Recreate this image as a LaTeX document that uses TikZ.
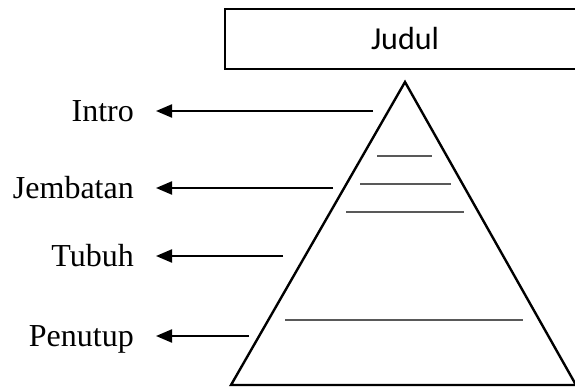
\documentclass[tikz,border=0pt]{standalone}
\usepackage{fontspec}
\setmainfont{Liberation Serif}
\newfontfamily\calib{Carlito}
\usetikzlibrary{arrows.meta}
\begin{document}
\begin{tikzpicture}[x=1pt,y=-1pt,
  lab/.style={anchor=east,inner ysep=0pt,inner xsep=22pt,text height=21.5pt,text depth=0pt,font=\fontsize{32}{36}\selectfont},
  arr/.style={line width=2.2pt,-{Triangle[length=16pt,width=13pt]}},
  inner/.style={draw=black!65,line width=1.6pt},
  tri/.style={line width=2.4pt,line join=miter}]
\useasboundingbox (0,0) rectangle (575,388);
\clip (0,0) rectangle (575,388);
\node[draw,line width=2pt,minimum width=360pt,minimum height=60pt,inner sep=0pt,font=\calib\fontsize{32}{36}\selectfont] (judul) at (405,39) {Judul};
\coordinate (apex) at (405,82);
\coordinate (bl) at (231,385);
\coordinate (br) at (576,385);
\draw[tri] (apex) -- (bl) -- (br) -- cycle;
\coordinate (l1a) at (377,156); \coordinate (l1b) at (432,156);
\coordinate (l2a) at (360,184); \coordinate (l2b) at (451,184);
\coordinate (l3a) at (346,212); \coordinate (l3b) at (464,212);
\coordinate (l4a) at (285,320); \coordinate (l4b) at (523,320);
\draw[inner] (l1a) -- (l1b);
\draw[inner] (l2a) -- (l2b);
\draw[inner] (l3a) -- (l3b);
\draw[inner] (l4a) -- (l4b);
\node[lab] (intro) at (156,111) {Intro};
\node[lab] (jemb) at (156,188) {Jembatan};
\node[lab] (tubuh) at (156,256) {Tubuh};
\node[lab] (penutup) at (156,336) {Penutup};
\coordinate (s1) at (373,111);
\coordinate (s2) at (333,188);
\coordinate (s3) at (283,256);
\coordinate (s4) at (249,336);
\draw[arr] (s1) -- (intro);
\draw[arr] (s2) -- (jemb);
\draw[arr] (s3) -- (tubuh);
\draw[arr] (s4) -- (penutup);
\end{tikzpicture}
\end{document}
